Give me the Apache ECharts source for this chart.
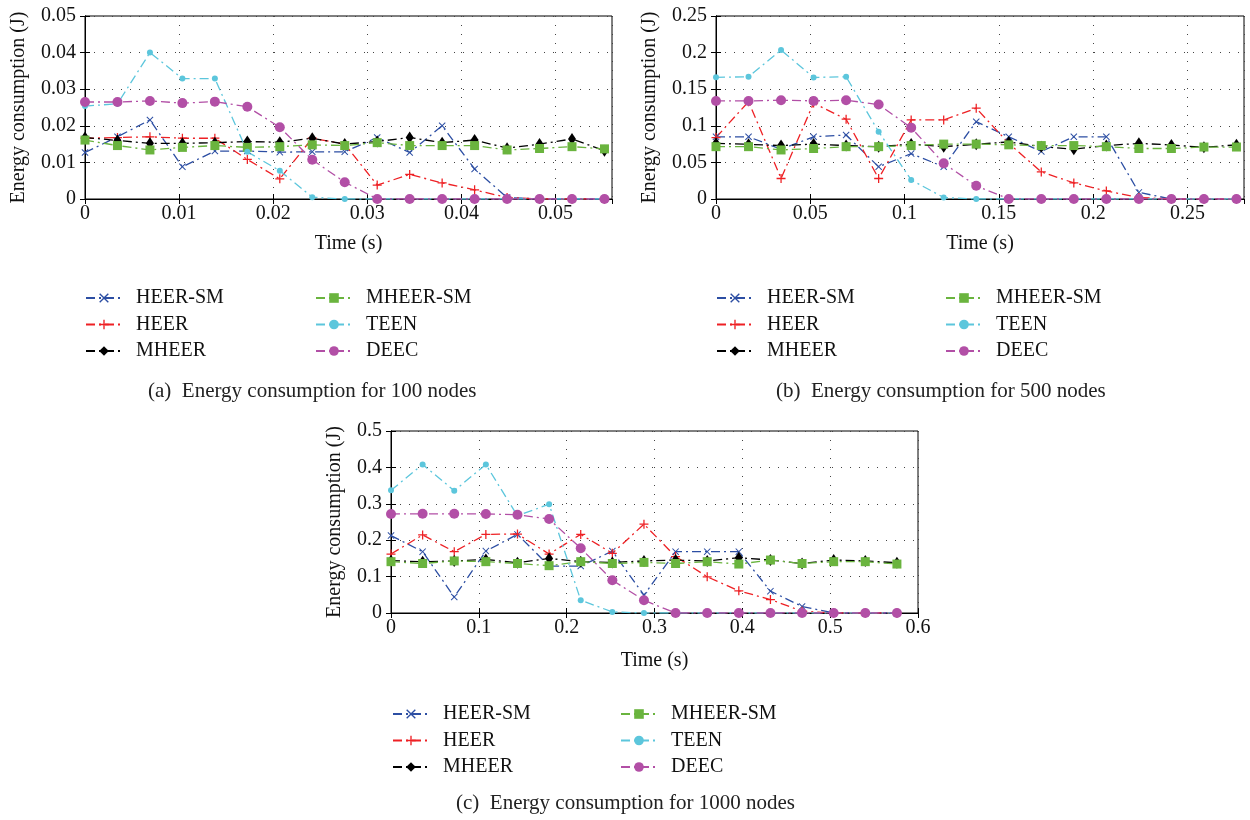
<!DOCTYPE html>
<html>
<head>
<meta charset="utf-8">
<title>Energy consumption</title>
<script src="https://cdn.jsdelivr.net/npm/echarts@6/dist/echarts.min.js"></script>
<style>
  html, body { margin: 0; padding: 0; background: #fff; }
  #chart { width: 1250px; height: 820px; }
</style>
</head>
<body>
<div id="chart"></div>
<script>
// time stamps (s)
const timeA = [0, 0.00345, 0.0069, 0.01035, 0.0138, 0.01725, 0.0207, 0.02415, 0.0276, 0.03105, 0.0345, 0.03795, 0.0414, 0.04485, 0.0483, 0.05175, 0.0552];
const timeB = [0, 0.01725, 0.0345, 0.05175, 0.069, 0.08625, 0.1035, 0.12075, 0.138, 0.15525, 0.1725, 0.18975, 0.207, 0.22425, 0.2415, 0.25875, 0.276];
const timeC = [0, 0.036, 0.072, 0.108, 0.144, 0.18, 0.216, 0.252, 0.288, 0.324, 0.36, 0.396, 0.432, 0.468, 0.504, 0.54, 0.576];

// (a) 100 nodes
const heerSmA  = [0.0127, 0.017, 0.0216, 0.0088, 0.0131, 0.0131, 0.0128, 0.0129, 0.0129, 0.0168, 0.0127, 0.0200, 0.0082, 0.0004, 0, 0, 0];
const heerA    = [0.0166, 0.0168, 0.017, 0.0166, 0.0166, 0.0108, 0.0055, 0.0166, 0.015, 0.0038, 0.0067, 0.0044, 0.0025, 0.0004, 0, 0, 0];
const mheerA   = [0.0168, 0.016, 0.0152, 0.0152, 0.0154, 0.0157, 0.0155, 0.0166, 0.015, 0.0157, 0.0168, 0.0154, 0.0161, 0.0139, 0.015, 0.0164, 0.0132];
const mheerSmA = [0.0161, 0.0146, 0.0134, 0.0141, 0.0146, 0.0141, 0.0143, 0.0148, 0.0146, 0.0154, 0.0146, 0.0146, 0.0146, 0.0134, 0.0138, 0.0143, 0.0137];
const teenA    = [0.0254, 0.026, 0.040, 0.0329, 0.0329, 0.0129, 0.0077, 0.0005, 0, 0, 0, 0, 0, 0, 0, 0, 0];
const deecA    = [0.0265, 0.0265, 0.0268, 0.0262, 0.0266, 0.0252, 0.0196, 0.0107, 0.0046, 0, 0, 0, 0, 0, 0, 0, 0];

// (b) 500 nodes
const heerSmB  = [0.085, 0.085, 0.068, 0.085, 0.0874, 0.044, 0.062, 0.044, 0.1056, 0.085, 0.065, 0.085, 0.085, 0.009, 0, 0, 0];
const heerB    = [0.084, 0.133, 0.028, 0.131, 0.109, 0.028, 0.108, 0.108, 0.124, 0.076, 0.037, 0.022, 0.011, 0.002, 0, 0, 0];
const mheerB   = [0.076, 0.0747, 0.073, 0.075, 0.073, 0.0715, 0.075, 0.0715, 0.0747, 0.078, 0.0715, 0.068, 0.073, 0.076, 0.0738, 0.0706, 0.074];
const mheerSmB = [0.0715, 0.0715, 0.067, 0.069, 0.0715, 0.0715, 0.073, 0.075, 0.075, 0.074, 0.073, 0.073, 0.0715, 0.069, 0.069, 0.071, 0.071];
const teenB    = [0.1662, 0.167, 0.2035, 0.166, 0.167, 0.092, 0.026, 0.002, 0, 0, 0, 0, 0, 0, 0, 0, 0];
const deecB    = [0.134, 0.134, 0.135, 0.134, 0.135, 0.129, 0.0975, 0.0487, 0.018, 0, 0, 0, 0, 0, 0, 0, 0];

// (c) 1000 nodes
const heerSmC  = [0.2127, 0.1685, 0.044, 0.17, 0.216, 0.129, 0.129, 0.17, 0.049, 0.1685, 0.1685, 0.1685, 0.06, 0.018, 0, 0, 0];
const heerC    = [0.162, 0.2145, 0.1685, 0.216, 0.217, 0.162, 0.216, 0.164, 0.244, 0.155, 0.0995, 0.061, 0.037, 0.005, 0, 0, 0];
const mheerC   = [0.1437, 0.141, 0.143, 0.147, 0.138, 0.150, 0.141, 0.139, 0.143, 0.1455, 0.143, 0.152, 0.1455, 0.136, 0.1455, 0.143, 0.138];
const mheerSmC = [0.141, 0.136, 0.143, 0.141, 0.136, 0.13, 0.141, 0.136, 0.139, 0.136, 0.141, 0.1345, 0.1455, 0.136, 0.141, 0.141, 0.1345];
const teenC    = [0.337, 0.408, 0.336, 0.408, 0.267, 0.299, 0.035, 0.003, 0, 0, 0, 0, 0, 0, 0, 0, 0];
const deecC    = [0.272, 0.2725, 0.2725, 0.272, 0.27, 0.258, 0.178, 0.09, 0.035, 0, 0, 0, 0, 0, 0, 0, 0];

const names = ['HEER-SM', 'HEER', 'MHEER', 'MHEER-SM', 'TEEN', 'DEEC'];
const captions = [
  '(a)  Energy consumption for 100 nodes',
  '(b)  Energy consumption for 500 nodes',
  '(c)  Energy consumption for 1000 nodes'
];

const FONT = '"Liberation Serif", "DejaVu Serif", serif';
const X_PATH = 'path://M0,1L1,0L5,4L9,0L10,1L6,5L10,9L9,10L5,6L1,10L0,9L4,5Z';
const PLUS_PATH = 'path://M4.3,0H5.7V4.3H10V5.7H5.7V10H4.3V5.7H0V4.3H4.3Z';

const looks = {
  'HEER-SM':  { color: '#2c4ea3', symbol: X_PATH, size: 7 },
  'HEER':     { color: '#ee2024', symbol: PLUS_PATH, size: 9 },
  'MHEER':    { color: '#000000', symbol: 'diamond', size: [8, 12] },
  'MHEER-SM': { color: '#6ab43e', symbol: 'rect', size: 9 },
  'TEEN':     { color: '#5cc6dc', symbol: 'circle', size: 6 },
  'DEEC':     { color: '#b24fa6', symbol: 'circle', size: 10 }
};

const panels = [
  { time: timeA, data: [heerSmA, heerA, mheerA, mheerSmA, teenA, deecA],
    grid: { left: 85, top: 16, width: 527, height: 183 },
    x: [0, 0.056, 0.01], y: [0, 0.05, 0.01], yGap: 56, xGap: 35,
    legend: [85, 315, 288], caption: [148, 381] },
  { time: timeB, data: [heerSmB, heerB, mheerB, mheerSmB, teenB, deecB],
    grid: { left: 716, top: 16, width: 528, height: 183 },
    x: [0, 0.28, 0.05], y: [0, 0.25, 0.05], yGap: 56, xGap: 35,
    legend: [716, 945, 288], caption: [776, 381] },
  { time: timeC, data: [heerSmC, heerC, mheerC, mheerSmC, teenC, deecC],
    grid: { left: 391, top: 431, width: 527, height: 182 },
    x: [0, 0.6, 0.1], y: [0, 0.5, 0.1], yGap: 46, xGap: 38,
    legend: [392, 620, 704], caption: [456, 793] }
];

const grid = [], xAxis = [], yAxis = [], series = [], legend = [], title = [];
const dots = { color: '#444', width: 1, type: [1, 8] };

panels.forEach(function (p, i) {
  grid.push(Object.assign({ show: true, borderColor: '#000', borderWidth: 1 }, p.grid));
  // main axes
  xAxis.push({
    gridIndex: i, type: 'value', min: p.x[0], max: p.x[1], interval: p.x[2],
    name: 'Time (s)', nameLocation: 'middle', nameGap: p.xGap,
    nameTextStyle: { fontFamily: FONT, fontSize: 20, color: '#111' },
    axisLine: { show: true, lineStyle: { color: '#000' } },
    axisTick: { inside: true, length: 5, lineStyle: { color: '#000' } },
    axisLabel: { fontFamily: FONT, fontSize: 20, color: '#111', margin: 5, showMaxLabel: p.x[1] === 0.6 },
    splitLine: { show: true, lineStyle: dots }
  });
  yAxis.push({
    gridIndex: i, type: 'value', min: p.y[0], max: p.y[1], interval: p.y[2],
    name: 'Energy consumption (J)', nameLocation: 'middle', nameGap: p.yGap,
    nameTextStyle: { fontFamily: FONT, fontSize: 20, color: '#111' },
    axisLine: { show: true, lineStyle: { color: '#000' } },
    axisTick: { inside: true, length: 5, lineStyle: { color: '#000' } },
    axisLabel: { fontFamily: FONT, fontSize: 20, color: '#111', margin: 9 },
    splitLine: { show: true, lineStyle: dots }
  });
  // mirrored tick marks on top / right
  xAxis.push({
    gridIndex: i, type: 'value', position: 'top', min: p.x[0], max: p.x[1], interval: p.x[2],
    axisLine: { show: true, lineStyle: { color: '#000' } },
    axisTick: { inside: true, length: 5, lineStyle: { color: '#000' } },
    axisLabel: { show: false }, splitLine: { show: false }
  });
  yAxis.push({
    gridIndex: i, type: 'value', position: 'right', min: p.y[0], max: p.y[1], interval: p.y[2],
    axisLine: { show: true, lineStyle: { color: '#000' } },
    axisTick: { inside: true, length: 5, lineStyle: { color: '#000' } },
    axisLabel: { show: false }, splitLine: { show: false }
  });

  names.forEach(function (name, k) {
    const look = looks[name];
    const vals = p.data[k];
    series.push({
      name: name, type: 'line',
      xAxisIndex: i * 2, yAxisIndex: i * 2,
      data: p.time.map(function (t, j) { return [t, vals[j]]; }),
      symbol: look.symbol, symbolSize: look.size, showAllSymbol: true,
      lineStyle: { color: look.color, width: 1.3, type: [9, 4, 2, 4] },
      itemStyle: { color: look.color },
      emphasis: { disabled: true },
      animation: false, clip: true
    });
  });

  [names.slice(0, 3), names.slice(3)].forEach(function (group, c) {
    legend.push({
      data: group, orient: 'vertical',
      left: p.legend[c], top: p.legend[2],
      itemWidth: 36, itemHeight: 12, itemGap: 6.5, padding: 0,
      selectedMode: false,
      textStyle: { fontFamily: FONT, fontSize: 20, color: '#111', padding: [0, 0, 0, 9] }
    });
  });

  title.push({
    text: captions[i], left: p.caption[0], top: p.caption[1], padding: 0,
    textStyle: { fontFamily: FONT, fontSize: 21, fontWeight: 'normal', color: '#222' }
  });
});

const myChart = echarts.init(document.getElementById('chart'));
myChart.setOption({
  animation: false,
  textStyle: { fontFamily: FONT },
  title: title,
  grid: grid,
  xAxis: xAxis,
  yAxis: yAxis,
  legend: legend,
  series: series
});
</script>
</body>
</html>
